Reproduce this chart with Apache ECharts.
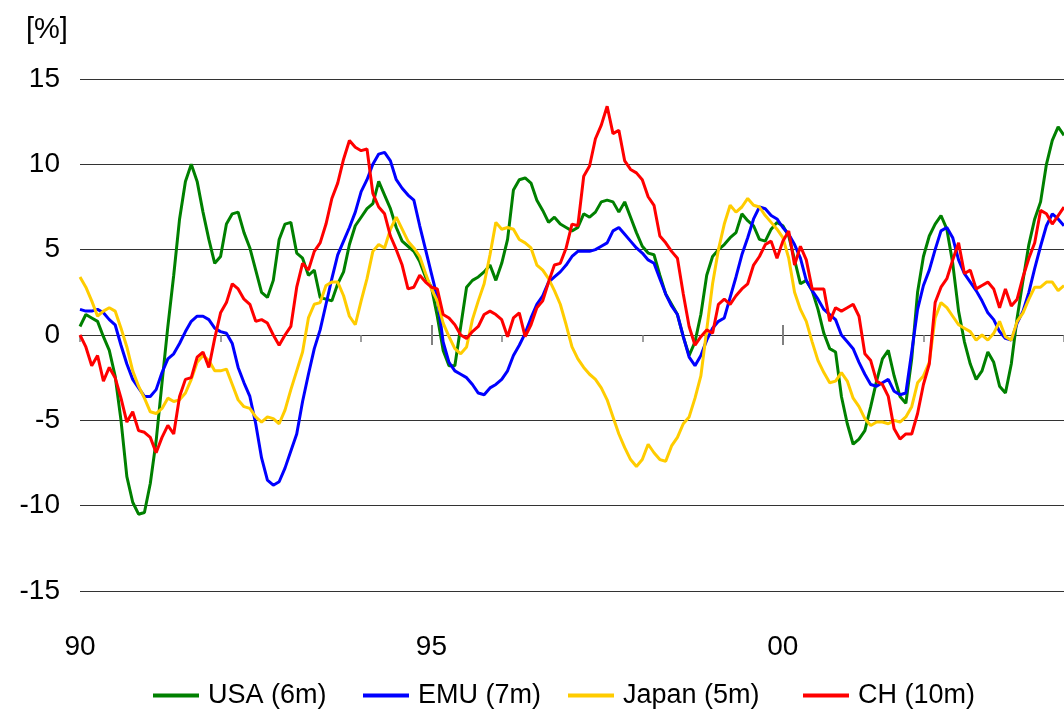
<!DOCTYPE html>
<html>
<head>
<meta charset="utf-8">
<script src="https://cdn.jsdelivr.net/npm/echarts@6/dist/echarts.min.js"></script>
<style>
html,body{margin:0;padding:0;background:#fff;}
#chart{width:1064px;height:713px;}
</style>
</head>
<body>
<div id="chart"></div>
<script>
// Monthly values, Jan 1990 .. Jan 2004 (percent)
const startYear = 1990;
const usa = [0.5,1.2,1.0,0.8,-0.1,-0.9,-2.4,-5.0,-8.3,-9.8,-10.5,-10.4,-8.7,-6.2,-2.8,0.5,3.5,6.8,9.0,10.0,
9.0,7.2,5.6,4.2,4.6,6.5,7.1,7.2,6.0,5.1,3.8,2.5,2.2,3.2,5.6,6.5,6.6,4.8,4.5,3.5,
3.8,2.2,2.1,2.0,3.0,3.7,5.3,6.4,6.9,7.4,7.7,9.0,8.2,7.4,6.3,5.5,5.2,4.9,4.3,3.4,
2.8,1.1,-0.9,-1.8,-1.8,0.5,2.8,3.2,3.4,3.7,4.1,3.2,4.2,5.6,8.5,9.1,9.2,8.9,7.9,7.3,
6.6,6.9,6.5,6.3,6.1,6.3,7.1,6.9,7.2,7.8,7.9,7.8,7.2,7.8,6.9,6.0,5.2,4.8,4.7,3.5,
2.4,1.8,1.2,-0.1,-1.2,-0.4,1.2,3.5,4.6,5.0,5.3,5.7,6.0,7.1,6.7,6.4,5.6,5.5,6.2,6.6,
6.4,5.8,4.4,3.0,3.2,2.6,1.5,0.1,-0.8,-1.0,-3.6,-5.2,-6.4,-6.1,-5.6,-4.2,-2.7,-1.4,-0.9,-2.4,
-3.6,-4.0,-1.4,2.5,4.6,5.8,6.5,7.0,6.2,4.2,1.4,-0.4,-1.7,-2.6,-2.1,-1.0,-1.6,-3.0,-3.4,-1.7,
1.0,3.2,5.3,6.8,7.8,10.0,11.4,12.2,11.7];
const emu = [1.5,1.4,1.4,1.5,1.3,0.9,0.6,-0.6,-1.7,-2.6,-3.1,-3.6,-3.6,-3.2,-2.2,-1.4,-1.1,-0.5,0.2,0.8,
1.1,1.1,0.9,0.4,0.2,0.1,-0.5,-1.9,-2.8,-3.6,-5.2,-7.2,-8.5,-8.8,-8.6,-7.8,-6.8,-5.8,-3.9,-2.3,
-0.8,0.3,1.8,3.3,4.7,5.5,6.3,7.2,8.4,9.1,10.0,10.6,10.7,10.2,9.1,8.6,8.2,7.9,6.4,5.0,
3.6,2.2,-0.4,-1.6,-2.1,-2.3,-2.5,-2.9,-3.4,-3.5,-3.1,-2.9,-2.6,-2.1,-1.2,-0.6,0.1,1.0,1.8,2.3,
3.1,3.4,3.7,4.1,4.6,4.9,4.9,4.9,5.0,5.2,5.4,6.1,6.3,5.9,5.5,5.1,4.8,4.4,4.2,3.3,
2.4,1.7,1.2,-0.1,-1.3,-1.8,-1.2,-0.3,0.4,0.8,1.0,2.2,3.4,4.7,5.7,6.8,7.5,7.4,7.0,6.8,
6.3,5.9,5.3,4.5,3.2,2.6,2.1,1.5,1.2,0.9,0.0,-0.4,-0.8,-1.6,-2.3,-2.9,-3.0,-2.8,-2.6,-3.3,
-3.5,-3.4,-1.0,1.5,2.9,3.8,5.0,6.1,6.3,5.7,4.4,3.6,3.1,2.6,2.0,1.3,0.9,0.2,-0.2,-0.3,
0.7,1.4,2.5,3.9,5.2,6.4,7.1,6.8,6.4];
const japan = [3.4,2.8,2.0,1.1,1.4,1.6,1.4,0.4,-0.7,-2.1,-3.0,-3.7,-4.5,-4.6,-4.3,-3.7,-3.9,-3.8,-3.4,-2.6,
-1.6,-1.2,-1.5,-2.1,-2.1,-2.0,-2.9,-3.8,-4.2,-4.3,-4.8,-5.1,-4.8,-4.9,-5.2,-4.4,-3.2,-2.1,-1.0,1.0,
1.8,1.9,2.9,3.1,3.1,2.3,1.1,0.6,2.0,3.3,4.9,5.3,5.1,6.2,6.9,6.2,5.5,5.1,4.6,3.6,
2.7,2.0,0.7,-0.1,-0.8,-1.1,-0.7,0.9,2.0,3.0,4.7,6.6,6.2,6.3,6.2,5.6,5.4,5.1,4.1,3.8,
3.3,2.6,1.8,0.6,-0.7,-1.4,-1.9,-2.3,-2.6,-3.1,-3.8,-4.8,-5.8,-6.6,-7.3,-7.7,-7.3,-6.4,-6.9,-7.3,
-7.4,-6.5,-6.0,-5.2,-4.8,-3.7,-2.4,0.3,3.0,5.0,6.5,7.6,7.2,7.5,8.0,7.6,7.5,7.0,6.6,6.2,
5.7,4.5,2.5,1.5,0.8,-0.4,-1.5,-2.2,-2.8,-2.7,-2.2,-2.7,-3.7,-4.2,-4.9,-5.3,-5.1,-5.1,-5.2,-5.0,
-5.1,-4.8,-4.2,-2.8,-2.4,-1.6,1.0,1.9,1.6,1.1,0.6,0.4,0.2,-0.3,0.0,-0.3,0.1,0.8,-0.1,-0.3,
0.8,1.3,2.1,2.8,2.8,3.1,3.1,2.6,2.9];
const ch = [0.0,-0.7,-1.8,-1.2,-2.7,-1.9,-2.5,-3.7,-5.1,-4.5,-5.6,-5.7,-6.0,-6.9,-6.0,-5.3,-5.8,-3.6,-2.6,-2.5,
-1.3,-1.0,-1.9,-0.2,1.3,1.9,3.0,2.7,2.1,1.8,0.8,0.9,0.7,0.0,-0.6,0.0,0.5,2.8,4.2,3.8,
4.9,5.4,6.5,8.0,8.9,10.3,11.4,11.0,10.8,10.9,8.3,7.5,7.1,5.8,5.0,4.1,2.7,2.8,3.5,3.1,
2.8,2.7,1.2,1.0,0.6,0.0,-0.2,0.2,0.5,1.2,1.4,1.2,0.9,-0.1,1.0,1.3,-0.1,0.6,1.6,2.0,
3.1,4.1,4.2,5.1,6.5,6.4,9.3,9.9,11.5,12.3,13.4,11.8,12.0,10.2,9.7,9.5,9.1,8.1,7.6,5.8,
5.4,4.9,4.5,2.4,0.5,-0.6,-0.1,0.3,0.1,1.8,2.1,1.8,2.3,2.7,3.0,4.1,4.6,5.3,5.5,4.5,
5.5,6.1,4.1,5.2,4.4,2.7,2.7,2.7,0.8,1.6,1.4,1.6,1.8,1.1,-1.1,-1.5,-2.7,-2.9,-3.6,-5.5,
-6.1,-5.8,-5.8,-4.6,-2.9,-1.7,1.9,2.8,3.3,4.4,5.4,3.6,3.8,2.7,2.9,3.1,2.7,1.6,2.7,1.7,
2.1,3.4,4.5,5.4,7.3,7.1,6.5,7.0,7.5];
const seriesNames = ['USA (6m)', 'EMU (7m)', 'Japan (5m)', 'CH (10m)'];
const seriesColors = ['#008000', '#0000ff', '#ffcc00', '#ff0000'];
const yTicks = [-15, -10, -5, 0, 5, 10, 15];

// month categories
const months = [];
for (let i = 0; i < usa.length; i++) {
  const y = startYear + Math.floor(i / 12);
  const m = (i % 12) + 1;
  months.push(y + '-' + String(m).padStart(2, '0'));
}

const FONT = 'Liberation Sans';
const chart = echarts.init(document.getElementById('chart'), null, {renderer: 'canvas'});

const yMin = yTicks[0], yMax = yTicks[yTicks.length - 1];

function tickAxis(yIdx, tick) {
  return {
    type: 'category', data: months, boundaryGap: false, position: 'bottom',
    axisLine: {show: false, onZero: true, onZeroAxisIndex: yIdx},
    axisLabel: {show: false}, splitLine: {show: false},
    axisTick: Object.assign({show: true}, tick)
  };
}
function hiddenY() {
  return {type: 'value', min: yMin, max: yMax, interval: 5, show: false,
    splitLine: {show: false}};
}

const legendLefts = [148, 358, 563, 798];

chart.setOption({
  animation: false,
  backgroundColor: '#fff',
  title: {
    text: '[%]', left: 21, top: 10,
    textStyle: {fontFamily: FONT, fontSize: 29, fontWeight: 'normal', color: '#000'}
  },
  grid: {left: 80, right: 0, top: 79, bottom: 122, containLabel: false},
  legend: seriesNames.map((n, k) => ({
    data: [n], left: legendLefts[k], top: 677,
    icon: 'rect', itemWidth: 46, itemHeight: 4, itemGap: 0,
    textStyle: {fontFamily: FONT, fontSize: 27, color: '#000', padding: [0, 0, 0, 4]}
  })),
  xAxis: [
    {
      type: 'category', data: months, boundaryGap: false, position: 'bottom',
      axisLine: {show: false, onZero: false}, axisTick: {show: false},
      splitLine: {show: false},
      axisLabel: {
        interval: (idx) => idx % 60 === 0,
        formatter: (v) => v.slice(2, 4),
        margin: 42, fontFamily: FONT, fontSize: 28, color: '#000'
      }
    },
    tickAxis(0, {interval: (idx) => idx % 24 === 0, inside: false, length: 7,
      lineStyle: {color: '#808080', width: 1.5}}),
    tickAxis(1, {interval: (idx) => idx > 0 && idx % 60 === 0, inside: false, length: 10,
      lineStyle: {color: '#808080', width: 2}}),
    tickAxis(2, {interval: (idx) => idx > 0 && idx % 60 === 0, inside: true, length: 10,
      lineStyle: {color: '#808080', width: 2}})
  ],
  yAxis: [
    {
      type: 'value', min: yMin, max: yMax, interval: 5,
      axisLine: {show: false}, axisTick: {show: false},
      axisLabel: {margin: 20, fontFamily: FONT, fontSize: 28, color: '#000'},
      splitLine: {lineStyle: {color: '#333', width: 1}}
    },
    hiddenY(),
    hiddenY()
  ],
  series: [usa, emu, japan, ch].map((d, k) => ({
    name: seriesNames[k], type: 'line', data: d, xAxisIndex: 0, yAxisIndex: 0,
    showSymbol: false, symbol: 'none', smooth: false,
    lineStyle: {color: seriesColors[k], width: 3},
    itemStyle: {color: seriesColors[k]}
  }))
});
</script>
</body>
</html>
